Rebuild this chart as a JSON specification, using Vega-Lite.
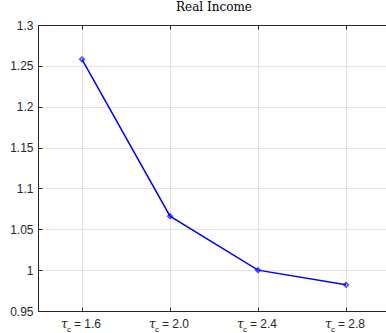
{
  "$schema": "https://vega.github.io/schema/vega-lite/v6.json",
  "width": 352,
  "height": 286,
  "autosize": "none",
  "padding": {"left": 38, "top": 25, "right": 0, "bottom": 22},
  "background": "white",
  "title": {
    "text": "Real Income",
    "font": "DejaVu Serif",
    "fontSize": 12,
    "fontWeight": "normal",
    "color": "#000000",
    "anchor": "middle",
    "offset": 5
  },
  "config": {
    "view": {"stroke": "#262626", "strokeWidth": 1},
    "axis": {
      "domainColor": "#262626",
      "tickColor": "#262626",
      "gridColor": "#e3e3e3",
      "gridWidth": 1,
      "labelFont": "Liberation Sans",
      "labelFontSize": 12,
      "labelColor": "#262626",
      "title": null
    }
  },
  "data": {
    "values": [
      {"tau": 1.6, "label": "= 1.6", "income": 1.258},
      {"tau": 2.0, "label": "= 2.0", "income": 1.066},
      {"tau": 2.4, "label": "= 2.4", "income": 1.0},
      {"tau": 2.8, "label": "= 2.8", "income": 0.982}
    ]
  },
  "resolve": {"axis": {"x": "independent", "y": "independent"}},
  "layer": [
    {
      "mark": {"type": "line", "color": "#0000ff", "strokeWidth": 1.5},
      "encoding": {
        "x": {
          "field": "tau",
          "type": "quantitative",
          "scale": {"domain": [1.4, 3.0], "nice": false, "zero": false},
          "axis": {
            "orient": "bottom",
            "values": [1.6, 2.0, 2.4, 2.8],
            "labels": false,
            "grid": true,
            "tickSize": -4
          }
        },
        "y": {
          "field": "income",
          "type": "quantitative",
          "scale": {"domain": [0.95, 1.3], "nice": false, "zero": false},
          "axis": {
            "orient": "left",
            "values": [0.95, 1.0, 1.05, 1.1, 1.15, 1.2, 1.25, 1.3],
            "labelExpr": "format(datum.value, '~g')",
            "grid": true,
            "tickSize": -4,
            "labelPadding": 9
          }
        }
      }
    },
    {
      "mark": {"type": "point", "shape": "diamond", "color": "#0000ff", "filled": false, "strokeWidth": 1.5, "size": 22},
      "encoding": {
        "x": {
          "field": "tau",
          "type": "quantitative",
          "axis": {"orient": "top", "values": [1.6, 2.0, 2.4, 2.8], "labels": false, "grid": false, "tickSize": -4}
        },
        "y": {
          "field": "income",
          "type": "quantitative",
          "axis": {"orient": "right", "values": [0.95, 1.0, 1.05, 1.1, 1.15, 1.2, 1.25, 1.3], "labels": false, "grid": false, "tickSize": -4}
        }
      }
    },
    {
      "mark": {"type": "text", "text": "τ", "font": "DejaVu Serif", "fontStyle": "italic", "fontSize": 12, "align": "left", "baseline": "alphabetic", "dx": -21, "dy": 17, "color": "#262626"},
      "encoding": {
        "x": {"field": "tau", "type": "quantitative", "axis": null},
        "y": {"datum": 0.95, "axis": null}
      }
    },
    {
      "mark": {"type": "text", "text": "c", "font": "Liberation Sans", "fontSize": 8, "align": "left", "baseline": "alphabetic", "dx": -15, "dy": 21, "color": "#262626"},
      "encoding": {
        "x": {"field": "tau", "type": "quantitative", "axis": null},
        "y": {"datum": 0.95, "axis": null}
      }
    },
    {
      "mark": {"type": "text", "font": "Liberation Sans", "fontSize": 12, "align": "left", "baseline": "alphabetic", "dx": -8, "dy": 17, "color": "#262626"},
      "encoding": {
        "x": {"field": "tau", "type": "quantitative", "axis": null},
        "y": {"datum": 0.95, "axis": null},
        "text": {"field": "label"}
      }
    }
  ]
}
